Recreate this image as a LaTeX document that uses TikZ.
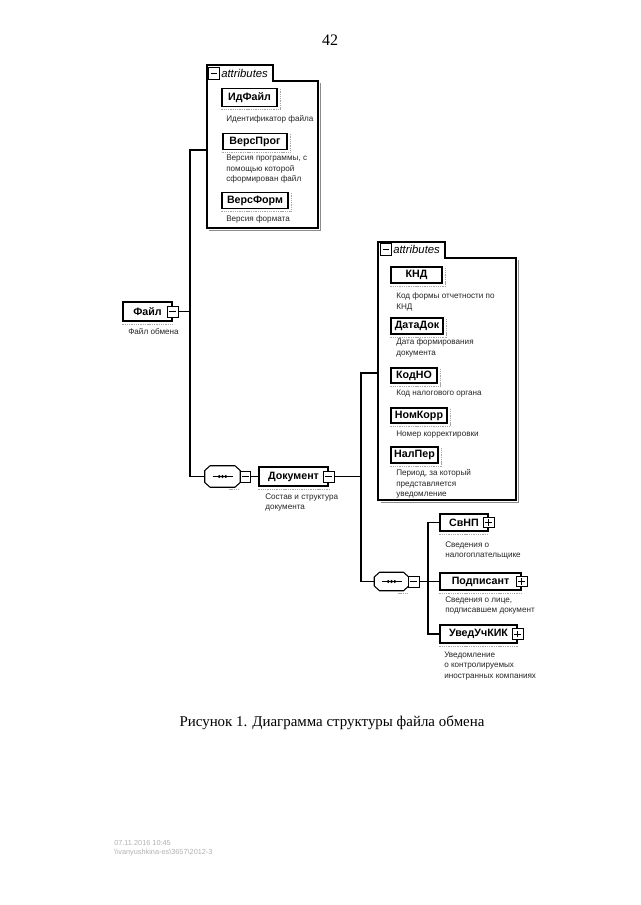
\documentclass[tikz,border=0pt]{standalone}
\usepackage{fontspec}
\setmainfont{Liberation Serif}
\newfontfamily\dsans{Liberation Sans}
\tikzset{
  sz/.style 2 args={minimum width=#1*0.75pt, minimum height=#2*0.75pt},
  conn/.style={draw=black, line width=0.8pt},
  elembox/.style={draw=black, line width=1.1pt, fill=white, inner sep=0pt,
    font=\dsans\bfseries\fontsize{8}{9}\selectfont},
  desc/.style={anchor=north west, align=left, inner sep=0pt,
    font=\dsans\fontsize{6.1}{7.8}\selectfont, text=black!85},
  minusbox/.style={draw=black, line width=0.6pt, fill=white, minimum width=7.8pt, minimum height=8.4pt, inner sep=0pt,
    path picture={\draw[line width=0.6pt] ([xshift=1.3pt]path picture bounding box.west) -- ([xshift=-1.3pt]path picture bounding box.east);}},
  plusbox/.style={draw=black, line width=0.6pt, fill=white, minimum size=7.8pt, inner sep=0pt,
    path picture={\draw[line width=0.6pt] ([xshift=1.3pt]path picture bounding box.west) -- ([xshift=-1.3pt]path picture bounding box.east);
      \draw[line width=0.6pt] ([yshift=1.3pt]path picture bounding box.south) -- ([yshift=-1.3pt]path picture bounding box.north);}},
  seqbase/.style={inner sep=0pt, draw=none},
  seqline/.style={draw=black, line width=0.8pt, fill=white},
  typeline/.style={draw=black!35, line width=0.7pt, dash pattern=on 1pt off 0.7pt},
  container/.style={draw=black, line width=0.8pt, fill=white},
  contshadow/.style={draw=black!45, line width=1.1pt},
  tabtext/.style={anchor=west, inner sep=0pt, font=\dsans\itshape\fontsize{8.5}{10}\selectfont},
}
\newcommand\undertype[1]{\draw[typeline] ([yshift=-2pt]#1.south west) -- ([yshift=-2pt]#1.south east);}
\newcommand\attrshade[1]{\draw[typeline] ([xshift=2pt,yshift=-1pt]#1.north east) -- ([xshift=2pt,yshift=-2pt]#1.south east);
  \draw[typeline] ([yshift=-2pt]#1.south west) -- ([xshift=2pt,yshift=-2pt]#1.south east);}
\newcommand\seqdraw[1]{%
  \draw[seqline] ([xshift=4pt]#1.north west) -- ([xshift=-4pt]#1.north east) -- ([yshift=-3.6pt]#1.north east)
    -- ([yshift=3.6pt]#1.south east) -- ([xshift=-4pt]#1.south east) -- ([xshift=4pt]#1.south west)
    -- ([yshift=3.6pt]#1.south west) -- ([yshift=-3.6pt]#1.north west) -- cycle;
  \draw[line width=0.7pt] ([xshift=-7.5pt]#1.center) -- ([xshift=7.5pt]#1.center);
  \fill ([xshift=-2.5pt]#1.center) circle (1.2pt);
  \fill (#1.center) circle (1.2pt);
  \fill ([xshift=2.5pt]#1.center) circle (1.2pt);
  \draw[typeline] ([xshift=5pt,yshift=-2pt]#1.south) -- ([xshift=12pt,yshift=-2pt]#1.south);}
\begin{document}
\begin{tikzpicture}[x=0.75pt,y=-0.75pt]
\useasboundingbox (0,0) rectangle (640,905);
\fill[white] (0,0) rectangle (640,905);

% page number
\node[font=\fontsize{12}{14}\selectfont, inner sep=0pt] (pgnum) at (330,40) {42};

% ---------- attributes container A ----------
\draw[contshadow] (320.5,83) -- (320.5,230.5) -- (209,230.5);
\draw[container] (207,65) -- (273,65) -- (273,81) -- (318,81) -- (318,228) -- (207,228) -- cycle;
\node[minusbox] (tabA) at (214,73.5) {};
\node[tabtext] (tabAt) at (221,73.5) {attributes};

\node[elembox, sz={55}{18}] (idf) at (249.5,97.5) {ИдФайл};
\attrshade{idf}
\node[desc] (idfd) at (226,115.5) {Идентификатор файла};

\node[elembox, sz={64}{16}] (vprog) at (255,141.5) {ВерсПрог};
\attrshade{vprog}
\node[desc] (vprogd) at (226,155) {Версия программы, с\\помощью которой\\сформирован файл};

\node[elembox, sz={66}{16}] (vform) at (255,200.5) {ВерсФорм};
\attrshade{vform}
\node[desc] (vformd) at (226,215.5) {Версия формата};

% ---------- root element ----------
\node[elembox, sz={49}{19}] (file) at (147.5,311.5) {Файл\hspace{4pt}};
\node[minusbox] (fileM) at (file.east) {};
\undertype{file}
\node[desc] (filed) at (128,328) {Файл обмена};

% sequence 1
\node[seqbase, sz={35}{21}] (seq1) at (222.5,476.5) {};
\seqdraw{seq1}
\node[minusbox, anchor=west] (seq1M) at ([xshift=-0.4pt]seq1.east) {};

% Документ
\node[elembox, sz={69}{19}] (doc) at (293.5,476.5) {Документ\hspace{4pt}};
\node[minusbox] (docM) at (doc.east) {};
\undertype{doc}
\node[desc] (docd) at (265,493.5) {Состав и структура\\документа};

% ---------- attributes container B ----------
\draw[contshadow] (518.5,260) -- (518.5,502.5) -- (381,502.5);
\draw[container] (378,242) -- (445,242) -- (445,258) -- (516,258) -- (516,500) -- (378,500) -- cycle;
\node[minusbox] (tabB) at (386,249.5) {};
\node[tabtext] (tabBt) at (393,249.5) {attributes};

\node[elembox, sz={51}{16}] (knd) at (416.5,275) {КНД};
\attrshade{knd}
\node[desc] (kndd) at (396,292.5) {Код формы отчетности по\\КНД};

\node[elembox, sz={52}{16}] (datadok) at (417,326) {ДатаДок};
\attrshade{datadok}
\node[desc] (datadokd) at (396,338.5) {Дата формирования\\документа};

\node[elembox, sz={46}{15}] (kodno) at (414,375.5) {КодНО};
\attrshade{kodno}
\node[desc] (kodnod) at (396,389.5) {Код налогового органа};

\node[elembox, sz={56}{15}] (nomkorr) at (419,415.5) {НомКорр};
\attrshade{nomkorr}
\node[desc] (nomkorrd) at (396,430.5) {Номер корректировки};

\node[elembox, sz={47}{16}] (nalper) at (414.5,455) {НалПер};
\attrshade{nalper}
\node[desc] (nalperd) at (396,469.5) {Период, за который\\представляется\\уведомление};

% sequence 2
\node[seqbase, sz={34}{18}] (seq2) at (391.5,581.5) {};
\seqdraw{seq2}
\node[minusbox, anchor=west] (seq2M) at ([xshift=-0.4pt]seq2.east) {};

% children
\node[elembox, sz={48}{17}] (svnp) at (464,522.5) {СвНП\hspace{6pt}};
\node[plusbox] (svnpP) at (svnp.east) {};
\undertype{svnp}
\node[desc] (svnpd) at (445,541.5) {Сведения о\\налогоплательщике};

\node[elembox, sz={81}{17}] (podp) at (480.5,581.5) {Подписант\hspace{6pt}};
\node[plusbox] (podpP) at (podp.east) {};
\undertype{podp}
\node[desc] (podpd) at (445,596.5) {Сведения о лице,\\подписавшем документ};

\node[elembox, sz={77}{18}] (uved) at (478.5,634) {УведУчКИК\hspace{6pt}};
\node[plusbox] (uvedP) at (uved.east) {};
\undertype{uved}
\node[desc] (uvedd) at (444,651.5) {Уведомление\\о контролируемых\\иностранных компаниях};

% ---------- connectors ----------
\coordinate (jA) at (190,311.5);
\coordinate (attrA) at (207,150);
\draw[conn] (fileM.east) -- (jA) |- (attrA);
\draw[conn] (jA) |- (seq1.west);
\draw[conn] (seq1M.east) -- (doc.west);

\coordinate (jB) at (361,476.5);
\coordinate (attrB) at (378,373);
\draw[conn] (docM.east) -- (jB) |- (attrB);
\draw[conn] (jB) |- (seq2.west);

\coordinate (jC) at (428,581.5);
\draw[conn] (seq2M.east) -- (jC);
\draw[conn] (svnp.west) -| (jC) |- (uved.west);
\draw[conn] (jC) -- (podp.west);

% caption
\node[font=\fontsize{11.2}{13}\selectfont, inner sep=0pt] (caption) at (332,723) {Рисунок 1. Диаграмма структуры файла обмена};

% footer
\node[anchor=west, align=left, inner sep=0pt, text=black!30, font=\dsans\fontsize{5.5}{6.5}\selectfont] (footer) at (114,848) {07.11.2016 10:45\\\textbackslash\textbackslash vanyushkina-es\textbackslash 3657\textbackslash 2012-3};
\end{tikzpicture}
\end{document}
